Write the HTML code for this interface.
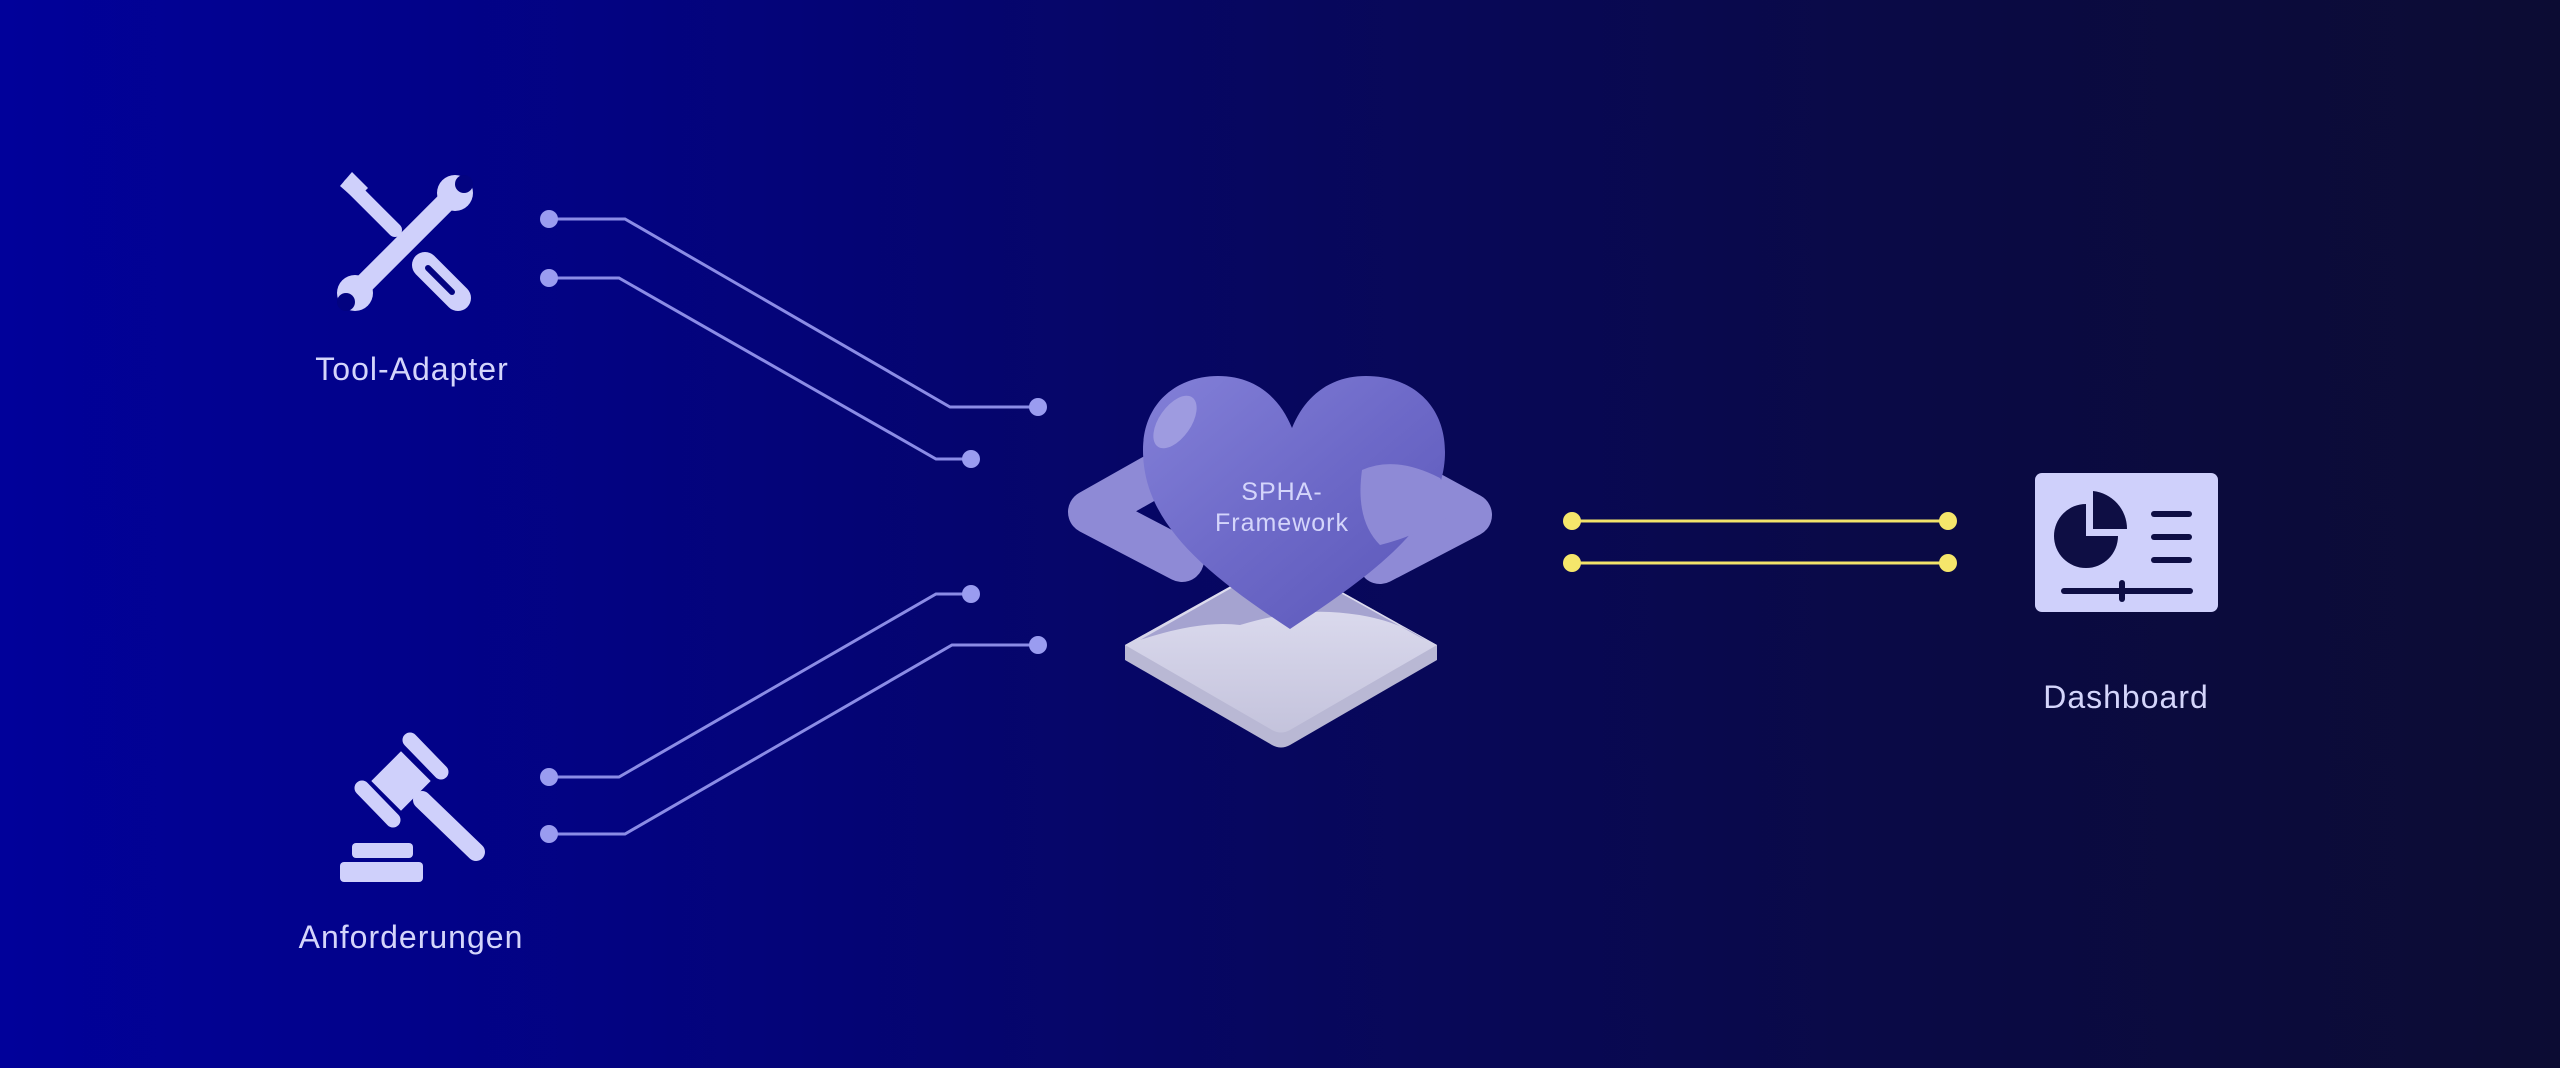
<!DOCTYPE html>
<html><head><meta charset="utf-8"><style>
html,body{margin:0;padding:0;width:2560px;height:1068px;overflow:hidden}
body{background:linear-gradient(90deg,#01019a 0%,#030380 25%,#07075e 50%,#0a0a45 75%,#0c0c33 100%)}
svg{position:absolute;left:0;top:0}
text{font-family:"Liberation Sans",sans-serif;fill:#d4d5fb}
</style></head><body>
<svg width="2560" height="1068" viewBox="0 0 2560 1068">
<defs>
<linearGradient id="hg" x1="0" y1="0" x2="1" y2="1">
<stop offset="0" stop-color="#8380d8"/><stop offset="0.5" stop-color="#6d69c8"/><stop offset="1" stop-color="#5a56b8"/>
</linearGradient>
<linearGradient id="pg" x1="0" y1="0" x2="0" y2="1">
<stop offset="0" stop-color="#e4e3f4"/><stop offset="1" stop-color="#c4c3dc"/>
</linearGradient>
</defs>
<g fill="none" stroke="#8b8ce6" stroke-width="3">
<polyline points="549,219 625,219 950,407 1038,407"/>
<polyline points="549,278 619,278 936,459 971,459"/>
<polyline points="971,594 936,594 619,777 549,777"/>
<polyline points="1038,645 952,645 625,834 549,834"/>
</g>
<g fill="#9a9cf0">
<circle cx="549" cy="219" r="9"/><circle cx="1038" cy="407" r="9"/>
<circle cx="549" cy="278" r="9"/><circle cx="971" cy="459" r="9"/>
<circle cx="971" cy="594" r="9"/><circle cx="549" cy="777" r="9"/>
<circle cx="1038" cy="645" r="9"/><circle cx="549" cy="834" r="9"/>
</g>
<g stroke="#f2e36a" stroke-width="3"><line x1="1572" y1="521" x2="1948" y2="521"/><line x1="1572" y1="563" x2="1948" y2="563"/></g>
<g fill="#f5e66b"><circle cx="1572" cy="521" r="9"/><circle cx="1948" cy="521" r="9"/><circle cx="1572" cy="563" r="9"/><circle cx="1948" cy="563" r="9"/></g>

<g fill="#cfd0fb" stroke="#cfd0fb" stroke-linecap="round">
<line x1="350" y1="185" x2="395" y2="230" stroke-width="14"/>
<polygon points="340,186 352,172 368,188 356,200" stroke="none"/>
<line x1="425" y1="265" x2="458" y2="298" stroke-width="26"/>
<line x1="360" y1="288" x2="450" y2="198" stroke-width="20"/>
<circle cx="355" cy="293" r="18" stroke="none"/>
<circle cx="455" cy="193" r="18" stroke="none"/>
</g>
<g stroke="#030380" stroke-linecap="round" fill="#030380">
<line x1="428" y1="268" x2="452" y2="292" stroke-width="6"/>
<circle cx="346" cy="302" r="9" stroke="none"/>
<circle cx="464" cy="184" r="9" stroke="none"/>
</g>
<text x="412" y="380" font-size="32" text-anchor="middle" letter-spacing="1">Tool-Adapter</text>

<g fill="#cfd0fb" stroke="#cfd0fb" stroke-linecap="round">
<line x1="422" y1="800" x2="476" y2="852" stroke-width="18"/>
<rect x="380" y="760" width="42" height="42" transform="rotate(45 401 781)" stroke="none"/>
<line x1="410" y1="740" x2="441" y2="772" stroke-width="15"/>
<line x1="362" y1="788" x2="393" y2="820" stroke-width="15"/>
<rect x="352" y="843" width="61" height="15" rx="4" stroke="none"/>
<rect x="340" y="862" width="83" height="20" rx="4" stroke="none"/>
</g>
<text x="411" y="948" font-size="32" text-anchor="middle" letter-spacing="1">Anforderungen</text>

<path d="M1125,645 L1281,558 L1437,645 L1437,660 L1290,745 Q1281,750 1272,745 L1125,660 Z" fill="#b9b8d4"/>
<path d="M1125,645 L1281,558 L1437,645 L1290,730 Q1281,735 1272,730 Z" fill="url(#pg)"/>
<path d="M1140,640 Q1200,620 1240,625 Q1290,610 1330,612 Q1390,615 1425,640 L1281,560 Z" fill="#a5a3d0"/>
<g stroke="#8e8ad6" stroke-linecap="round" stroke-linejoin="round" fill="none" stroke-width="44">
<polyline points="1182,560 1090,512 1152,477"/>
<polyline points="1380,562 1470,515 1402,478"/>
</g>
<path d="M1290,629 C1200,570 1143,520 1143,450 C1143,402 1178,376 1218,376 C1254,376 1279,396 1292,428 C1305,396 1330,376 1366,376 C1412,376 1445,405 1445,452 C1445,520 1380,570 1290,629Z" fill="url(#hg)"/>
<ellipse cx="1175" cy="422" rx="16" ry="30" transform="rotate(35 1175 422)" fill="#9e9be0"/>
<path d="M1362,470 Q1395,455 1440,478 L1460,510 Q1420,535 1380,545 Q1355,520 1362,470Z" fill="#8e8ad6"/>
<text x="1282" y="500" font-size="25" text-anchor="middle" letter-spacing="1">SPHA-</text>
<text x="1282" y="531" font-size="25" text-anchor="middle" letter-spacing="1">Framework</text>

<rect x="2035" y="473" width="183" height="139" rx="7" fill="#cfd0fb"/>
<path d="M2086,536 L2086,504 A32,32 0 1 0 2118,536 Z" fill="#0e0e44"/>
<path d="M2093,529 L2093,491 A38,38 0 0 1 2127,529 Z" fill="#0e0e44"/>
<g stroke="#0e0e44" stroke-width="6" stroke-linecap="round">
<line x1="2154" y1="514" x2="2189" y2="514"/><line x1="2154" y1="537" x2="2189" y2="537"/><line x1="2154" y1="560" x2="2189" y2="560"/>
<line x1="2064" y1="591" x2="2190" y2="591"/><line x1="2122" y1="583" x2="2122" y2="599"/>
</g>
<text x="2126" y="708" font-size="32" text-anchor="middle" letter-spacing="1">Dashboard</text>
</svg>
</body></html>
